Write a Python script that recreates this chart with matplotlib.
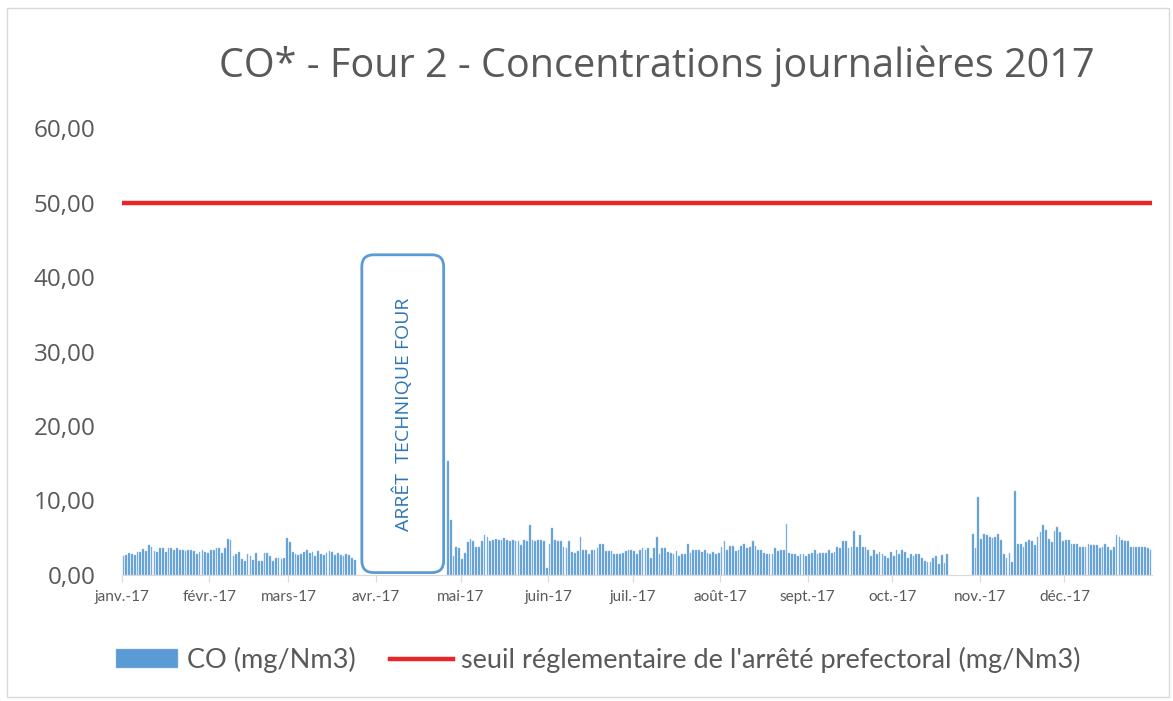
import numpy as np
import pandas as pd
import matplotlib
matplotlib.use("Agg")
import matplotlib.pyplot as plt
import matplotlib.dates as mdates
from matplotlib.patches import FancyBboxPatch, Rectangle

nan = np.nan

# CO daily averages (mg/Nm3), one list per month
jan = [2.5, 2.7, 2.9, 2.8, 2.7, 3.1, 3.0, 3.5, 3.2, 4.0, 3.8, 3.2, 3.0, 3.6, 3.6, 3.1,
       3.6, 3.6, 3.3, 3.6, 3.4, 3.3, 3.2, 3.4, 3.4, 3.2, 2.8, 3.1, 3.3, 3.1, 2.9]
feb = [3.4, 3.4, 3.6, 3.6, 2.95, 3.6, 4.8, 4.65, 2.5, 2.8, 3.1, 2.15, 1.9, 2.8, 2.5, 2.05,
       2.95, 1.9, 1.9, 2.95, 2.95, 2.5, 1.9, 2.3, 2.2, 2.15, 2.3, 5.0]
mar = [4.4, 3.0, 2.8, 2.7, 2.8, 3.0, 3.4, 2.9, 3.1, 2.5, 3.2, 2.8, 2.6, 2.9, 3.2, 3.0,
       2.6, 2.9, 2.7, 2.5, 2.8, 2.7, 2.3, 2.05] + [nan] * 7
apr = [nan] * 25 + [15.3, 7.4, 2.5, 3.8, 3.6]
may = [2.15, 2.95, 4.4, 4.8, 4.5, 3.8, 3.8, 4.5, 5.3, 5.1, 4.5, 4.7, 4.8, 4.65, 4.65, 5.0,
       4.7, 4.5, 4.65, 4.5, 4.5, 4.0, 4.65, 4.5, 6.7, 4.65, 4.5, 4.65, 4.65, 4.5, 0.9]
jun = [4.2, 6.35, 4.65, 4.5, 4.5, 3.75, 3.6, 4.5, 3.1, 2.95, 3.2, 5.1, 3.4, 3.4, 2.8, 3.4,
       3.3, 3.6, 4.2, 4.2, 3.2, 3.2, 3.2, 2.8, 2.8, 2.8, 2.95, 3.2, 3.4, 3.4]
jul = [3.2, 2.8, 3.4, 3.6, 3.4, 3.6, 2.3, 3.6, 5.1, 2.8, 3.6, 3.6, 3.1, 2.95, 2.8, 3.2,
       2.5, 2.8, 2.8, 4.2, 2.95, 3.4, 3.4, 3.4, 3.1, 3.4, 2.95, 2.8, 3.1, 2.8, 2.95]
aug = [3.75, 4.5, 3.4, 3.85, 3.85, 3.2, 3.4, 3.85, 4.2, 3.6, 3.75, 4.5, 3.85, 3.4, 3.4, 2.95,
       2.8, 2.8, 2.8, 3.6, 3.2, 3.4, 3.4, 6.85, 2.95, 2.8, 2.8, 2.5, 2.8, 2.8, 2.5]
sep = [2.8, 2.95, 3.4, 2.8, 2.95, 2.95, 2.95, 3.4, 2.95, 3.1, 3.75, 3.6, 4.5, 4.5, 3.6, 3.75,
       5.9, 3.75, 5.35, 3.75, 3.75, 3.4, 2.5, 3.4, 2.8, 3.1, 2.8, 2.5, 2.3, 3.1]
oct_ = [2.5, 3.4, 2.8, 3.4, 3.1, 2.3, 2.8, 2.5, 2.8, 2.8, 2.3, 1.9, 1.7, 1.7, 2.3, 2.5,
        1.4, 2.6, 1.6, 2.8] + [nan] * 8 + [5.55, 3.6, 10.5]
nov = [4.8, 5.45, 5.3, 5.1, 4.9, 5.1, 5.45, 4.65, 2.8, 2.3, 2.95, 1.7, 11.2, 4.2, 4.2, 3.75,
       4.4, 4.65, 4.5, 4.0, 5.1, 5.7, 6.7, 6.0, 4.8, 4.4, 5.9, 6.45, 5.7, 4.5]
dec = [4.65, 4.65, 4.2, 4.2, 4.2, 3.75, 3.75, 3.75, 4.2, 4.0, 4.0, 4.0, 3.6, 3.75, 4.2, 3.75,
       3.4, 3.75, 5.3, 5.1, 4.65, 4.5, 4.5, 3.75, 3.75, 3.75, 3.75, 3.75, 3.75, 3.6, 3.4]

seuil = 50.0
month_labels = ["janv.-17", "févr.-17", "mars-17", "avr.-17", "mai-17", "juin-17",
                "juil.-17", "août-17", "sept.-17", "oct.-17", "nov.-17", "déc.-17"]
arret_debut, arret_fin = "2017-03-27", "2017-04-25"

co = np.array(jan + feb + mar + apr + may + jun + jul + aug + sep + oct_ + nov + dec, dtype=float)
days = pd.date_range("2017-01-01", "2017-12-31", freq="D")
x = mdates.date2num(days)
ok = ~np.isnan(co)

blue = "#5B9BD5"
grey = "#595959"
plt.rcParams["font.family"] = ["Lato", "DejaVu Sans"]

fig = plt.figure(figsize=(11.73, 7.01), dpi=100)
ax = fig.add_axes([0.104, 0.18, 0.878, 0.637])

bars = ax.bar(x[ok] + 0.5, co[ok], width=0.62, color=blue, edgecolor="#9DC3E6",
              linewidth=0.3, label="CO (mg/Nm3)")
line = ax.axhline(seuil, color="#E8262A", lw=3.2,
                  label="seuil réglementaire de l'arrêté prefectoral (mg/Nm3)")

x0 = mdates.date2num(pd.Timestamp("2017-01-01"))
x1 = mdates.date2num(pd.Timestamp("2018-01-01"))
ax.set_xlim(x0, x1)
ax.set_ylim(0, 60)

months = mdates.date2num(pd.date_range("2017-01-01", periods=12, freq="MS"))
ax.set_xticks(months)
ax.set_xticklabels(month_labels, fontsize=11, color=grey)
ax.tick_params(axis="x", length=5, color="#D9D9D9", pad=6)
yt = np.arange(0, 61, 10)
ax.set_yticks(yt)
ax.set_yticklabels([f"{v:.2f}".replace(".", ",") for v in yt], fontsize=17.5, color=grey,
                   family=["Open Sans", "DejaVu Sans"])
ax.tick_params(axis="y", length=0, pad=19)

for s in ["top", "right", "left"]:
    ax.spines[s].set_visible(False)
ax.spines["bottom"].set_color("#D9D9D9")

# box for the shutdown period
bx0 = mdates.date2num(pd.Timestamp(arret_debut))
bx1 = mdates.date2num(pd.Timestamp(arret_fin))
bbox = ax.get_window_extent()
aspect = (60 / bbox.height) / ((x1 - x0) / bbox.width)
box = FancyBboxPatch((bx0, 0.3), bx1 - bx0, 42.7,
                     boxstyle="round,pad=0,rounding_size=4.2", mutation_aspect=aspect,
                     fc="white", ec=blue, lw=2, zorder=3)
ax.add_patch(box)
ax.text((bx0 + bx1) / 2, 21.6, "ARRÊT  TECHNIQUE FOUR", rotation=90, ha="center",
        va="center", color="#2E75B6", fontsize=14, zorder=4,
        family=["Open Sans", "DejaVu Sans"])

fig.text(0.56, 0.905, "CO* - Four 2 - Concentrations journalières 2017", ha="center",
         va="center", fontsize=28.5, color=grey, family=["Open Sans", "DejaVu Sans"])

fig.legend([bars, line], [bars.get_label(), line.get_label()],
           loc="center", bbox_to_anchor=(0.51, 0.058), ncol=2, frameon=False,
           prop={"size": 19.5}, labelcolor=grey, handlelength=2.3,
           columnspacing=1.3, handletextpad=0.3)

fig.patches.append(Rectangle((0.006, 0.005), 0.991, 0.984, transform=fig.transFigure,
                             fill=False, ec="#D9D9D9", lw=1))

fig.savefig("out.png", dpi=100)
